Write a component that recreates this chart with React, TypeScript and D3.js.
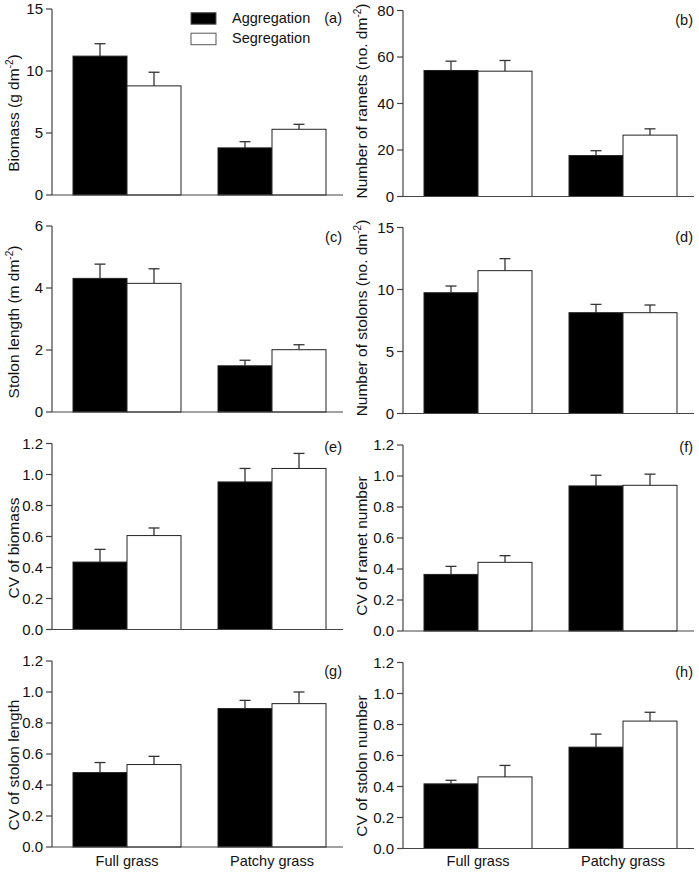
import React from 'react';
import * as d3 from 'd3';

const groups = ['Full grass', 'Patchy grass'];
const seriesNames = ['Aggregation', 'Segregation'];

// means and standard errors, [Full grass, Patchy grass]
const biomassAgg = [11.2, 3.8];
const biomassAggSE = [1.0, 0.5];
const biomassSeg = [8.8, 5.3];
const biomassSegSE = [1.1, 0.4];

const rametsAgg = [54.2, 17.6];
const rametsAggSE = [4.0, 2.1];
const rametsSeg = [53.9, 26.4];
const rametsSegSE = [4.6, 2.7];

const stolonLenAgg = [4.31, 1.49];
const stolonLenAggSE = [0.46, 0.18];
const stolonLenSeg = [4.15, 2.01];
const stolonLenSegSE = [0.47, 0.16];

const stolonsAgg = [9.74, 8.13];
const stolonsAggSE = [0.54, 0.67];
const stolonsSeg = [11.52, 8.13];
const stolonsSegSE = [0.97, 0.62];

const cvBiomassAgg = [0.435, 0.952];
const cvBiomassAggSE = [0.082, 0.087];
const cvBiomassSeg = [0.606, 1.039];
const cvBiomassSegSE = [0.049, 0.097];

const cvRametAgg = [0.365, 0.936];
const cvRametAggSE = [0.052, 0.069];
const cvRametSeg = [0.443, 0.94];
const cvRametSegSE = [0.043, 0.072];

const cvStolonLenAgg = [0.48, 0.893];
const cvStolonLenAggSE = [0.065, 0.053];
const cvStolonLenSeg = [0.532, 0.925];
const cvStolonLenSegSE = [0.053, 0.075];

const cvStolonNumAgg = [0.417, 0.654];
const cvStolonNumAggSE = [0.023, 0.084];
const cvStolonNumSeg = [0.462, 0.822];
const cvStolonNumSegSE = [0.074, 0.057];

const ticksBiomass = [0, 5, 10, 15];
const ticksRamets = [0, 20, 40, 60, 80];
const ticksStolonLen = [0, 2, 4, 6];
const ticksStolons = [0, 5, 10, 15];
const ticksCV = [0, 0.2, 0.4, 0.6, 0.8, 1.0, 1.2];

const panelLetters = ['(a)', '(b)', '(c)', '(d)', '(e)', '(f)', '(g)', '(h)'];
const labelMain = [
  'Biomass (g dm',
  'Number of ramets (no. dm',
  'Stolon length (m dm',
  'Number of stolons (no. dm',
  'CV of biomass',
  'CV of ramet number',
  'CV of stolon length',
  'CV of stolon number',
];
const labelSup = [true, true, true, true, false, false, false, false];

const panels = [
  { agg: biomassAgg, aggSE: biomassAggSE, seg: biomassSeg, segSE: biomassSegSE, ticks: ticksBiomass, fmt: d3.format('d') },
  { agg: rametsAgg, aggSE: rametsAggSE, seg: rametsSeg, segSE: rametsSegSE, ticks: ticksRamets, fmt: d3.format('d') },
  { agg: stolonLenAgg, aggSE: stolonLenAggSE, seg: stolonLenSeg, segSE: stolonLenSegSE, ticks: ticksStolonLen, fmt: d3.format('d') },
  { agg: stolonsAgg, aggSE: stolonsAggSE, seg: stolonsSeg, segSE: stolonsSegSE, ticks: ticksStolons, fmt: d3.format('d') },
  { agg: cvBiomassAgg, aggSE: cvBiomassAggSE, seg: cvBiomassSeg, segSE: cvBiomassSegSE, ticks: ticksCV, fmt: d3.format('.1f') },
  { agg: cvRametAgg, aggSE: cvRametAggSE, seg: cvRametSeg, segSE: cvRametSegSE, ticks: ticksCV, fmt: d3.format('.1f') },
  { agg: cvStolonLenAgg, aggSE: cvStolonLenAggSE, seg: cvStolonLenSeg, segSE: cvStolonLenSegSE, ticks: ticksCV, fmt: d3.format('.1f') },
  { agg: cvStolonNumAgg, aggSE: cvStolonNumAggSE, seg: cvStolonNumSeg, segSE: cvStolonNumSegSE, ticks: ticksCV, fmt: d3.format('.1f') },
];

// layout (styling, not data)
const W = 699;
const H = 874;
const colAxisX = [52, 403];
const colDy = [0, 1.5];
const rowTop = [9, 226, 443.5, 661];
const plotH = 186;
const plotW = 291;
const colLabelX = [19, 367];
const letterDy = [14.3, 14, 16, 14.6, 8.5, 7, 15, 14];
const labelCenter = [113, 101, 322, 318, 548, 546, 765, 766];
const FONT = 'Arial, "Liberation Sans", Helvetica, sans-serif';
const AXIS = '#444';

function Panel({ idx }: { idx: number }) {
  const p = panels[idx];
  const col = idx % 2;
  const row = Math.floor(idx / 2);
  const x0 = colAxisX[col];
  const top = rowTop[row] + colDy[col];
  const bottom = top + plotH;
  const y = d3.scaleLinear().domain([p.ticks[0], p.ticks[p.ticks.length - 1]]).range([bottom, top]);
  const gx = d3.scalePoint<string>().domain(groups).range([x0 + 75, x0 + 220]);
  const sx = d3.scaleBand<string>().domain(seriesNames).range([-54, 54]).padding(0);
  const bw = sx.bandwidth();
  const vals = [p.agg, p.seg];
  const ses = [p.aggSE, p.segSE];
  const fills = ['#000', '#fff'];
  const labelX = colLabelX[col];
  const lc = labelCenter[idx];
  return (
    <g>
      {seriesNames.map((s, si) =>
        groups.map((g, gi) => {
          const v = vals[si][gi];
          const e = ses[si][gi];
          const bx = (gx(g) as number) + (sx(s) as number);
          const cx = bx + bw / 2;
          return (
            <g key={s + g}>
              <line x1={cx} x2={cx} y1={y(v)} y2={y(v + e)} stroke="#333" strokeWidth={1.3} />
              <line x1={cx - 5.5} x2={cx + 5.5} y1={y(v + e)} y2={y(v + e)} stroke="#333" strokeWidth={1.3} />
              <rect x={bx} y={y(v)} width={bw} height={bottom - y(v)} fill={fills[si]} stroke="#222" strokeWidth={1} />
            </g>
          );
        })
      )}
      <line x1={x0} x2={x0} y1={top} y2={bottom} stroke={AXIS} strokeWidth={1.2} />
      <line x1={x0} x2={x0 + plotW} y1={bottom} y2={bottom} stroke={AXIS} strokeWidth={1.2} />
      {p.ticks.map((t) => (
        <g key={t}>
          <line x1={x0 - 6} x2={x0} y1={y(t)} y2={y(t)} stroke={AXIS} strokeWidth={1.2} />
          <text x={x0 - 9} y={y(t)} dy="0.36em" textAnchor="end" fontSize={15} fontFamily={FONT} fill="#111">
            {p.fmt(t)}
          </text>
        </g>
      ))}
      <text
        transform={`translate(${labelX},${lc}) rotate(-90)`}
        textAnchor="middle"
        fontSize={15.5}
        fontFamily={FONT}
        fill="#111"
      >
        {labelMain[idx]}
        {labelSup[idx] ? (
          <>
            <tspan dy={-6} fontSize={10}>-2</tspan>
            <tspan dy={6}>)</tspan>
          </>
        ) : null}
      </text>
      <text x={x0 + 290} y={top + letterDy[idx]} textAnchor="end" fontSize={14.5} fontFamily={FONT} fill="#111">
        {panelLetters[idx]}
      </text>
      {row === 3
        ? groups.map((g) => (
            <text key={g} x={gx(g) as number} y={866} textAnchor="middle" fontSize={14.5} fontFamily={FONT} fill="#111">
              {g}
            </text>
          ))
        : null}
      {idx === 0
        ? seriesNames.map((s, si) => (
            <g key={s}>
              <rect x={191} y={12.7 + si * 20.5} width={25} height={11.5} fill={fills[si]} stroke="#555" strokeWidth={1} />
              <text x={232} y={23.3 + si * 19.5} fontSize={14.5} fontFamily={FONT} fill="#111">
                {s}
              </text>
            </g>
          ))
        : null}
    </g>
  );
}

export default function App() {
  return (
    <svg
      width={W}
      height={H}
      viewBox={`0 0 ${W} ${H}`}
      style={{ position: 'absolute', left: 0, top: 0, background: '#fff' }}
    >
      <rect x={0} y={0} width={W} height={H} fill="#fff" />
      {panels.map((_, i) => (
        <Panel key={i} idx={i} />
      ))}
    </svg>
  );
}
